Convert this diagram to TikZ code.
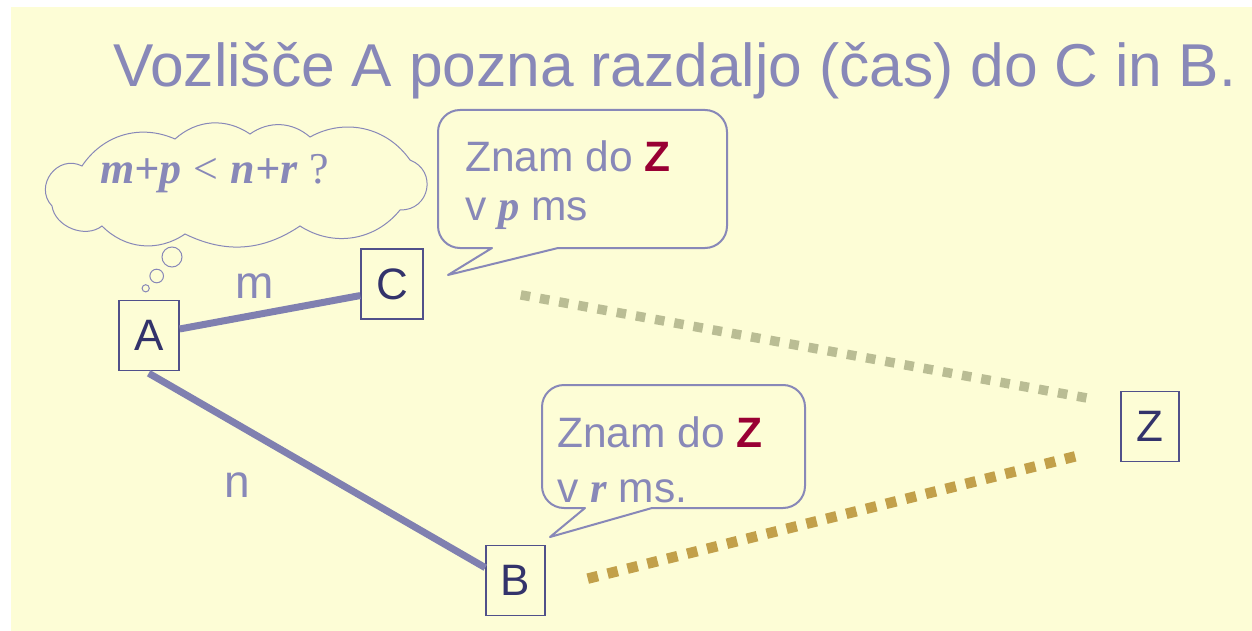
\documentclass[tikz,border=0pt]{standalone}
\usepackage{fontspec}
\setmainfont{Liberation Sans}
\newfontfamily\varfont{Liberation Serif}

\definecolor{paper}{HTML}{FDFDD6}
\definecolor{ink}{HTML}{8888B8}
\definecolor{edgecol}{HTML}{8080B0}
\definecolor{boxline}{HTML}{50508A}
\definecolor{boxtext}{HTML}{33336B}
\definecolor{accent}{HTML}{990033}
\definecolor{greendots}{HTML}{BABD94}
\definecolor{golddots}{HTML}{C2A04A}

% bold italic serif variables
\newcommand\var[1]{{\varfont\bfseries\itshape #1}}

\tikzset{
  vertex/.style={draw=boxline, line width=1.5pt, text=boxtext,
    font=\fontsize{44pt}{48pt}\selectfont, inner sep=0pt,
    minimum width=60pt, minimum height=70pt},
  link/.style={draw=edgecol, line width=7pt},
  weight/.style={text=ink, font=\fontsize{46pt}{50pt}\selectfont, inner sep=0pt},
  saytext/.style={anchor=base west, text=ink, inner sep=0pt,
    font=\fontsize{42.5pt}{46pt}\selectfont},
  bubble/.style={draw=ink, line width=2pt, fill=paper, line join=round},
  thinkline/.style={draw=ink, line width=1pt, fill=paper},
  route/.style={line width=#1, dash pattern=on #1 off 10pt},
}

\begin{document}
\begin{tikzpicture}[x=1pt,y=-1pt]
  \useasboundingbox (0,0) rectangle (1252,631);
  \fill[white] (0,0) rectangle (1252,631);
  \fill[paper] (11,7) rectangle (1252,631);

  % heading
  \node[anchor=base west, inner sep=0pt, text=ink,
        font=\fontsize{60.5pt}{66pt}\selectfont] (title) at (113,87)
        {Vozlišče A pozna razdaljo (čas) do C in B.};

  % network nodes
  \node[vertex] (A) at (149,335.5) {A};
  \node[vertex, minimum width=62pt] (C) at (392,284) {C};
  \node[vertex, minimum width=59pt] (B) at (515.5,580.5) {B};
  \node[vertex, minimum width=58pt] (Z) at (1150,426.5) {Z};

  % direct links
  \draw[link] (A.12) -- (C.200);
  \draw[link, shorten <=4pt] (A.264) -- (B.157);
  \node[weight] (wm) at (255,286) {m};
  \node[weight] (wn) at (237,485.5) {n};

  % known routes towards Z
  \draw[greendots, route=9.5pt, shorten <=98.6pt, shorten >=33.5pt] (C.12) -- (Z.143);
  \draw[golddots, route=10.5pt, shorten <=43.3pt, shorten >=37pt] (B.-16) -- (Z.212);

  % thought cloud of A, puff by puff
  \draw[thinkline]
    (52,206) to[bend left=80, looseness=1.4] (82,166)
             to[bend left=40] (175,139)
             to[bend left=38] (250,134)
             to[bend left=38] (310,137)
             to[bend left=42] (410,160)
             to[bend left=80, looseness=1.5] (400,210)
             to[bend left=42] (300,226)
             to[bend left=30] (185,234)
             to[bend left=40] (102,226)
             to[bend left=60] cycle;
  \node[anchor=base west, inner sep=0pt, text=ink,
        font=\fontsize{44pt}{48pt}\selectfont] (question) at (100,183)
        {\var{m+p} {\varfont <} \var{n+r} {\varfont ?}};
  \draw[thinkline] (172,257) circle[radius=10];
  \draw[thinkline] (156.7,276) circle[radius=6.8];
  \draw[thinkline] (145.7,288.3) circle[radius=3.6];

  % speech bubble of C
  \draw[bubble] (558,248) -- (705,248) arc[start angle=90, end angle=0, radius=22]
    -- (727,132) arc[start angle=0, end angle=-90, radius=22]
    -- (460,110) arc[start angle=-90, end angle=-180, radius=22]
    -- (438,226) arc[start angle=180, end angle=90, radius=22]
    -- (492,248) -- (448,275) -- cycle;
  \node[saytext] (sayC1) at (465,172) {Znam do \textcolor{accent}{\textbf{Z}}};
  \node[saytext] (sayC2) at (465,220) {v \var{p} ms};

  % speech bubble of B
  \draw[bubble] (652,508) -- (783,508) arc[start angle=90, end angle=0, radius=22]
    -- (805,407) arc[start angle=0, end angle=-90, radius=22]
    -- (564,385) arc[start angle=-90, end angle=-180, radius=22]
    -- (542,486) arc[start angle=180, end angle=90, radius=22]
    -- (585,508) -- (550,537) -- cycle;
  \node[saytext] (sayB1) at (557,447) {Znam do \textcolor{accent}{\textbf{Z}}};
  \node[saytext] (sayB2) at (557,502) {v \var{r} ms.};
\end{tikzpicture}
\end{document}
